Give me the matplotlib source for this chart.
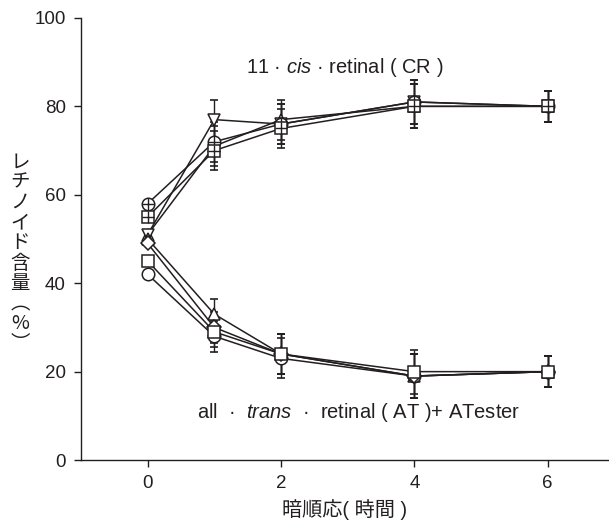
import matplotlib
matplotlib.use("Agg")
import matplotlib.pyplot as plt
import numpy as np

plt.rcParams.update({
    "font.family": ["Liberation Sans", "Noto Sans CJK JP"],
    "mathtext.fontset": "custom",
    "mathtext.rm": "Liberation Sans",
    "mathtext.it": "Liberation Sans:italic",
    "font.size": 13.5,
})

INK = "#231f20"

hours = [0, 1, 2, 4, 6]

# 11-cis-retinal (CR) series
cr_circle = [58, 72, 76, 81, 80]
cr_square = [55, 70, 75, 80, 80]
cr_tri_down = [51, 77, 76, 81, 80]
cr_tri_up = [51, 71, 77, 80, 80]
cr_err = [0, 4.5, 4.5, 5, 3.5]

# all-trans-retinal (AT) + AT ester series
at_square = [45, 29, 24, 20, 20]
at_circle = [42, 28, 23, 19, 20]
at_tri_up = [50, 33, 24, 19, 20]
at_diamond = [49, 30, 24, 19, 20]
at_err = [0, 3.5, 4.5, 5, 3.5]

yticks = [0, 20, 40, 60, 80, 100]
xticks = [0, 2, 4, 6]

fig = plt.figure(figsize=(6.09, 5.27), dpi=100)
ax = fig.add_axes([0.133, 0.127, 0.867, 0.839])

mk = dict(color=INK, lw=1.1, mfc="white", mec=INK, mew=1.1, ms=9, zorder=3)
eb = dict(fmt="none", ecolor=INK, elinewidth=1.0, capsize=3, capthick=1.2, zorder=2)


def series(y, marker, err, cross=False, ms=9):
    ax.errorbar(hours, y, yerr=err, **eb)
    ax.plot(hours, y, marker=marker, **{**mk, "ms": ms})
    if cross:
        ax.plot(hours, y, ls="none", marker="+", ms=ms, mec=INK, mew=1.0, zorder=3)


series(cr_tri_up, "^", cr_err)
series(cr_tri_down, "v", cr_err)
series(cr_circle, "o", cr_err, cross=True)
series(cr_square, "s", cr_err, cross=True)

series(at_tri_up, "^", at_err)
series(at_circle, "o", at_err)
series(at_diamond, "D", at_err, ms=7)
series(at_square, "s", at_err)

ax.set_xlim(-1, 6.92)
ax.set_ylim(0, 100)
ax.set_xticks(xticks)
ax.set_yticks(yticks)
for side in ("top", "right"):
    ax.spines[side].set_visible(False)
for side in ("left", "bottom"):
    ax.spines[side].set_color(INK)
    ax.spines[side].set_linewidth(1.0)
ax.tick_params(direction="out", length=5, width=1, color=INK, labelcolor=INK,
               pad=6, labelsize=13.5)

ax.text(2.95, 88.8, r"11 · $\mathit{cis}$ · retinal ( CR )", ha="center", va="center",
        color=INK, fontsize=14.5)
ax.text(3.17, 10.8, r"all  ·  $\mathit{trans}$  ·  retinal ( AT )+ ATester", ha="center",
        va="center", color=INK, fontsize=14.5)

ax.set_xlabel("暗順応( 時間 )", color=INK, fontsize=14.5, labelpad=5)
fig.text(0.033, 0.52, "\n".join(["レ", "チ", "ノ", "イ", "ド", "含", "量", "︵", "%", "︶"]),
         ha="center", va="center", color=INK, fontsize=14, linespacing=0.95,
         family=["Noto Sans CJK JP", "Liberation Sans"])

fig.savefig("out.png", dpi=100)
